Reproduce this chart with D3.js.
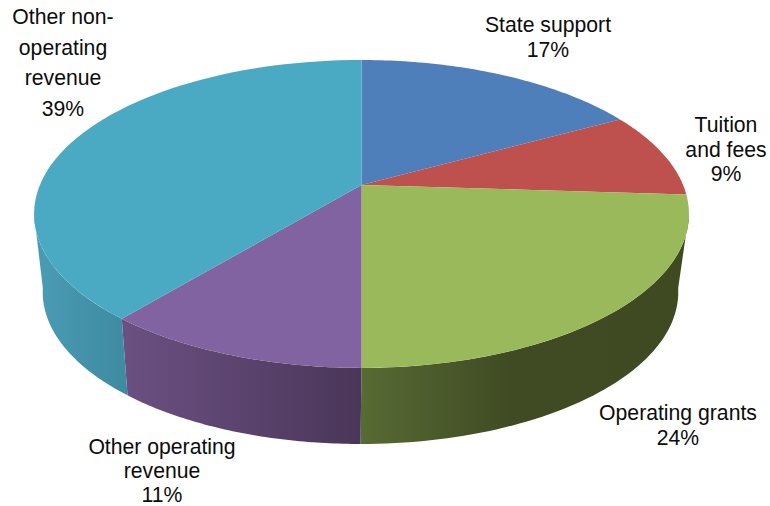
<!DOCTYPE html>
<html>
<head>
<meta charset="utf-8">
<style>
  html, body { margin: 0; padding: 0; background: #fff; }
  svg { display: block; }
  text { font-family: "Liberation Sans", Arial, sans-serif; font-size: 21.2px; fill: #0c0c0c; text-anchor: middle; }
</style>
<script src="https://cdn.jsdelivr.net/npm/d3@7"></script>
</head>
<body>
<svg id="chart" width="770" height="506"></svg>
<script>
const categories = ["State support", "Tuition and fees", "Operating grants", "Other operating revenue", "Other non-operating revenue"];
const shares = [17, 9, 24, 11, 39];
const topColors = ["#4f7fbb", "#be504e", "#9ab95b", "#8063a0", "#4aa9c3"];
const sideStops = [
  null,
  null,
  [["0%", "#576b34"], ["45%", "#404b23"], ["100%", "#3f4a22"]],
  [["0%", "#6b5082"], ["100%", "#4a3659"]],
  [["0%", "#4a9cb5"], ["100%", "#3e8aa1"]]
];
const labelLines = [
  ["State support", "17%"],
  ["Tuition", "and fees", "9%"],
  ["Operating grants", "24%"],
  ["Other operating", "revenue", "11%"],
  ["Other non-", "operating", "revenue", "39%"]
];
const labelAnchors = [[548, 32, 25], [726, 132, 24.5], [678, 420, 24.5], [162, 454, 24], [63, 24, 30.7]];

const svg = d3.select("#chart");
const defs = svg.append("defs");

// Upper and lower discs of the tilted pie, each a projected unit circle.
const topDisc = { cx: 361.5, cy: 185, ax: 321.6, ay: 148.5, k: 0.188, warp: 0 };
const lowDisc = { cx: 360.5, cy: 258.6, ax: 310, ay: 144.6, k: 0.22, warp: 0.02 };
const project = (disc, a) => {
  // warp slides rim points toward the front so seams follow the perspective lean
  const t = a - disc.warp * Math.sin(2 * (a - Math.PI));
  const u = Math.sin(t), v = Math.cos(t), w = 1 + disc.k * v;
  return [disc.cx + disc.ax * u / w, disc.cy - disc.ay * v / w];
};
const sweep = (a0, a1) => d3.range(0, 61).map(i => a0 + (a1 - a0) * i / 60);
const path = d3.line();

const arcs = d3.pie().sort(null).value(d => d)(shares);

// The rim turns away from the viewer at the disc's horizontal extremes.
const rimStart = Math.PI / 2 + Math.asin(topDisc.k);
const rimEnd = 2 * Math.PI - rimStart;

arcs.forEach((d, i) => {
  if (!sideStops[i]) return;
  const a0 = Math.max(d.startAngle, rimStart);
  const a1 = Math.min(d.endAngle, rimEnd);
  const upper = sweep(a0, a1).map(a => project(topDisc, a));
  const lower = sweep(a0, a1).map(a => project(lowDisc, a)).reverse();
  const xs = upper.concat(lower).map(p => p[0]);
  const grad = defs.append("linearGradient")
    .attr("id", "side" + i)
    .attr("gradientUnits", "userSpaceOnUse")
    .attr("x1", d3.min(xs)).attr("x2", d3.max(xs))
    .attr("y1", 0).attr("y2", 0);
  sideStops[i].forEach(s => grad.append("stop").attr("offset", s[0]).attr("stop-color", s[1]));
  svg.append("path")
    .attr("d", path(upper.concat(lower)) + "Z")
    .attr("fill", `url(#side${i})`);
});

svg.selectAll("path.slice")
  .data(arcs)
  .join("path")
  .attr("class", "slice")
  .attr("fill", (d, i) => topColors[i])
  .attr("d", d => path([[topDisc.cx, topDisc.cy]].concat(sweep(d.startAngle, d.endAngle).map(a => project(topDisc, a)))) + "Z");

labelLines.forEach((lines, i) => {
  const [x, y, lead] = labelAnchors[i];
  const t = svg.append("text").attr("aria-label", categories[i]);
  lines.forEach((line, j) => t.append("tspan").attr("x", x).attr("y", y + j * lead).text(line));
});
</script>
</body>
</html>
